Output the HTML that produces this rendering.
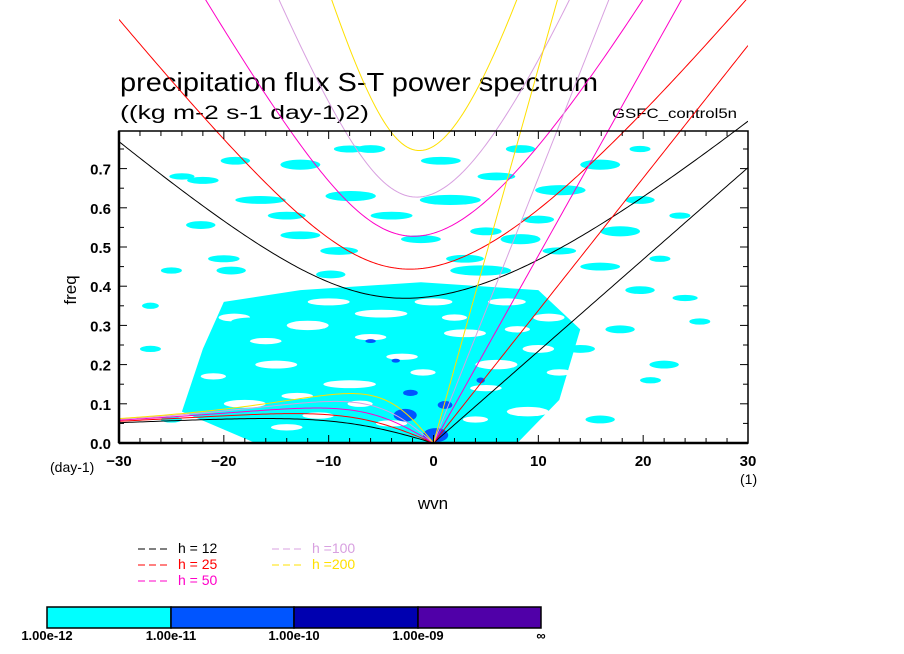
<!DOCTYPE html>
<html><head><meta charset="utf-8">
<style>
html,body{margin:0;padding:0;background:#fff;}
svg{display:block;font-family:"Liberation Sans",sans-serif;}
</style></head>
<body>
<svg id="chart" width="904" height="654" viewBox="0 0 904 654" xmlns="http://www.w3.org/2000/svg">
<defs><clipPath id="plotclip"><rect x="119" y="0" width="629" height="443"/></clipPath>
<clipPath id="boxclip"><rect x="119" y="131" width="629" height="312"/></clipPath></defs>
<text x="120" y="91" font-size="26" fill="#000" textLength="478" lengthAdjust="spacingAndGlyphs">precipitation flux S-T power spectrum</text>
<text x="120" y="119" font-size="19" fill="#000" textLength="249" lengthAdjust="spacingAndGlyphs">((kg m-2 s-1 day-1)2)</text>
<text x="612" y="118" font-size="14" fill="#000" textLength="125" lengthAdjust="spacingAndGlyphs">GSFC_control5n</text>
<g id="fills" clip-path="url(#boxclip)"></g>
<g id="curves" clip-path="url(#plotclip)"></g>
<g id="axes"></g>
<text x="0" y="0" font-size="17" transform="translate(76,290) rotate(-90)" text-anchor="middle">freq</text>
<text x="433" y="509" font-size="17" text-anchor="middle">wvn</text>
<text x="50" y="472" font-size="14">(day-1)</text>
<text x="740" y="484" font-size="14">(1)</text>
<g id="legend"></g>
<g id="colorbar"></g>
</svg>
<script>
// ---- data ----
const depths=[12,25,50,100,200];
const depthColors=["#000000","#ff0000","#ff00c8","#d8a0e0","#ffe000"];
const xTicks=[-30,-20,-10,0,10,20,30];
const yTicks=[0,0.1,0.2,0.3,0.4,0.5,0.6,0.7];
const levelLabels=["1.00e-12","1.00e-11","1.00e-10","1.00e-09","\u221e"];
const levelColors=["#00ffff","#0055ff","#0000b0","#5000a8"];
// cyan blobs: wvn, freq, radius-wvn, radius-freq
const blobWvn=[-18.9,-12.7,-6,0.7,8.3,15.9,19.7,-16.5,-7.9,1.6,12.1,19.7,-22.2,-12.7,-1.2,8.3,17.8,23.5,-19.3,-9.8,4.5,15.9,21.6,-25,-27,17.8,20.7,25.4,15.9,-25,-17.4,14,19.7,-22,-14,-4,6,12,-9,3,10,24,-27,22,-20,-24,5,-8];
const blobFreq=[0.72,0.71,0.75,0.72,0.75,0.71,0.75,0.62,0.63,0.62,0.645,0.62,0.556,0.53,0.52,0.52,0.54,0.58,0.44,0.43,0.44,0.45,0.47,0.44,0.24,0.29,0.16,0.31,0.06,0.06,0.31,0.24,0.39,0.67,0.58,0.58,0.68,0.49,0.49,0.47,0.57,0.37,0.35,0.2,0.47,0.68,0.54,0.75];
const blobRw=[1.4,1.9,1.4,1.9,1.4,1.9,1,2.4,2.4,2.9,2.4,1.4,1.4,1.9,1.9,1.9,1.9,1,1.4,1.4,2.9,1.9,1,1,1,1.4,1,1,1.4,1,1.9,1.4,1.4,1.5,1.8,2,1.8,1.6,1.8,1.8,1.5,1.2,0.8,1.4,1.5,1.2,1.5,1.5];
const blobRf=[0.01,0.013,0.01,0.01,0.01,0.013,0.008,0.01,0.013,0.013,0.013,0.01,0.01,0.01,0.01,0.013,0.013,0.008,0.01,0.01,0.013,0.01,0.008,0.008,0.008,0.01,0.008,0.008,0.01,0.008,0.01,0.01,0.01,0.009,0.01,0.01,0.01,0.009,0.01,0.01,0.01,0.008,0.008,0.01,0.009,0.008,0.01,0.009];
// dense region outline
const denseWvn=[-20,-12.7,-1.2,10,14,12,8,-17,-24,-22];
const denseFreq=[0.36,0.39,0.41,0.39,0.29,0.11,0,0,0.08,0.24];
// holes in dense region
const holeWvn=[-12,-5,3,-15,6,-8,9,-18,-3,-19,-10,0,7,11,-16,-6,2,10,-21,-13,-1,5,-11,-4,4,12,-14,-7,8];
const holeFreq=[0.3,0.33,0.28,0.2,0.2,0.15,0.08,0.1,0.22,0.32,0.36,0.36,0.36,0.32,0.26,0.27,0.32,0.24,0.17,0.12,0.18,0.14,0.07,0.05,0.06,0.18,0.04,0.1,0.29];
const holeRw=[2,2.5,2,2,2,2.5,2,2,1.5,1.5,2,1.8,1.8,1.5,1.5,1.5,1.2,1.5,1.2,1.5,1.2,1.5,1.5,1.5,1.2,1.2,1.5,1.2,1.2];
const holeRf=[0.012,0.01,0.01,0.01,0.012,0.01,0.012,0.01,0.008,0.01,0.009,0.009,0.009,0.01,0.008,0.008,0.008,0.01,0.008,0.008,0.008,0.008,0.008,0.008,0.008,0.008,0.008,0.008,0.008];
// darker blobs
const darkWvn=[-2.2,1.1,-2.7,4.5,-3.6,-6,0.2];
const darkFreq=[0.128,0.097,0.071,0.16,0.21,0.26,0.02];
const darkRw=[0.7,0.7,1.1,0.4,0.4,0.5,1.2];
const darkRf=[0.008,0.01,0.016,0.007,0.005,0.005,0.018];

// ---- scales ----
const X0=119,X1=748,Y0=443,Y1=131;
const xs=w=>433.5+(w)*(X1-X0)/60;
const ys=f=>Y0-f*392;
const NS="http://www.w3.org/2000/svg";
function mk(tag,attrs,parent){const e=document.createElementNS(NS,tag);for(const k in attrs)e.setAttribute(k,attrs[k]);parent.appendChild(e);return e;}

const fills=document.getElementById('fills');
const dense=mk('polygon',{points:denseWvn.map((w,i)=>xs(w)+','+ys(denseFreq[i])).join(' '),fill:levelColors[0]},fills);


holeWvn.forEach((w,i)=>{const e=mk('ellipse',{cx:xs(w),cy:ys(holeFreq[i]),rx:holeRw[i]*10.5,ry:holeRf[i]*392,fill:"#fff"},fills);

});
blobWvn.forEach((w,i)=>{const e=mk('ellipse',{cx:xs(w),cy:ys(blobFreq[i]),rx:blobRw[i]*10.5,ry:blobRf[i]*392,fill:levelColors[0]},fills);

});
darkWvn.forEach((w,i)=>{const e=mk('ellipse',{cx:xs(w),cy:ys(darkFreq[i]),rx:darkRw[i]*10.5,ry:darkRf[i]*392,fill:levelColors[1]},fills);

});

// ---- dispersion curves ----
const g=9.81,beta=2.28e-11,Re=6.371e6,toCpd=86400/(2*Math.PI);
const curves=document.getElementById('curves');
depths.forEach((h,j)=>{
  const c=Math.sqrt(g*h);const col=depthColors[j];
  const kel=[],er=[],ig=[];
  for(let w=0;w<=30.001;w+=0.25){kel.push([w,c*w/Re*toCpd]);}
  for(let w=-30;w<=0.001;w+=0.25){const k=w/Re;er.push([w,-beta*k/(k*k+3*beta/c)*toCpd]);}
  for(let w=-30;w<=30.001;w+=0.25){const k=w/Re;let om=Math.sqrt(3*beta*c+c*c*k*k)*1.3;
    for(let it=0;it<50;it++){const f=om*om*om-(c*c*k*k+3*beta*c)*om-beta*c*c*k;const d=3*om*om-(c*c*k*k+3*beta*c);om-=f/d;}
    ig.push([w,om*toCpd]);}
  [[kel,'kelvin'],[er,'rossby'],[ig,'gravity']].forEach(([pts,nm])=>{
    const p=mk('polyline',{points:pts.map(q=>xs(q[0]).toFixed(2)+','+ys(q[1]).toFixed(2)).join(' '),fill:'none',stroke:col,'stroke-width':1},curves);
    
    
  });
});

// ---- axes ----
const ax=document.getElementById('axes');
const box=mk('rect',{x:X0,y:Y1,width:X1-X0,height:Y0-Y1,fill:'none',stroke:'#000','stroke-width':1.5},ax);


mk('line',{x1:X0,y1:Y0,x2:X1,y2:Y0,stroke:'#000','stroke-width':2.5},ax);
mk('line',{x1:X0,y1:Y1,x2:X0,y2:Y0,stroke:'#000','stroke-width':2.5},ax);
for(let w=-30;w<=30;w+=2){const big=w%10===0;const L=big?8:5;
  mk('line',{x1:xs(w),y1:Y0,x2:xs(w),y2:Y0-L,stroke:'#000'},ax);
  mk('line',{x1:xs(w),y1:Y1,x2:xs(w),y2:Y1+L,stroke:'#000'},ax);}
for(let i=0;i<=15;i++){const f=i*0.05;const L=i%2===0?8:5;
  mk('line',{x1:X0,y1:ys(f),x2:X0+L,y2:ys(f),stroke:'#000'},ax);
  mk('line',{x1:X1,y1:ys(f),x2:X1-L,y2:ys(f),stroke:'#000'},ax);}
xTicks.forEach(w=>{const t=mk('text',{x:xs(w),y:466,'font-size':15,'text-anchor':'middle','font-weight':'bold'},ax);t.textContent=(w<0?'\u2212':'')+Math.abs(w);

});
yTicks.forEach(f=>{const t=mk('text',{x:111,y:ys(f)+6,'font-size':15,'text-anchor':'end','font-weight':'bold'},ax);t.textContent=f.toFixed(1);

});

// ---- legend ----
const lg=document.getElementById('legend');
depths.forEach((h,j)=>{const col=j<3?0:1,row=j<3?j:j-3;const x=col?272:138,y=553+row*16;
  const d=mk('line',{x1:x,y1:y-4,x2:x+32,y2:y-4,stroke:depthColors[j],'stroke-dasharray':'7,4'},lg);
  
  
  const t=mk('text',{x:x+40,y:y,'font-size':14,fill:j===0?'#000':depthColors[j]},lg);t.textContent='h ='+(h<100?' ':'')+h;
  
  });

// ---- colorbar ----
const cb=document.getElementById('colorbar');
const cbx=[47,171,294,418,541];
levelColors.forEach((c,i)=>{const r=mk('rect',{x:cbx[i],y:607,width:cbx[i+1]-cbx[i],height:21,fill:c,stroke:'#000','stroke-width':1.5},cb);

});
levelLabels.forEach((s,i)=>{const t=mk('text',{x:cbx[i],y:640,'font-size':13,'text-anchor':'middle','font-weight':'bold'},cb);t.textContent=s;

});
</script>
</body></html>
